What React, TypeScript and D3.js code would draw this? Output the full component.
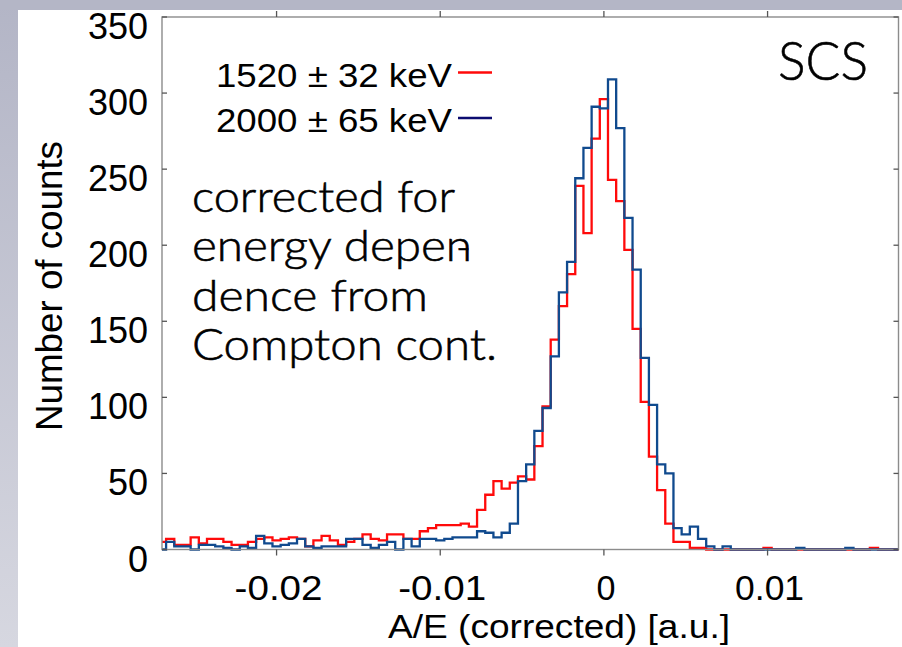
import React from "react";
import * as d3 from "d3";

// ---- data (bin centers start at -0.027, step 0.0005) ----
const binCenterStart = -0.027;
const binWidth = 0.0005;

const redCounts = [
  5, 7, 3, 3, 8, 4, 7, 7, 5, 3,
  3, 5, 7, 8, 6, 7, 8, 7, 2, 6,
  9, 6, 3, 5, 7, 10, 7, 6, 10, 10,
  7, 7, 12, 14, 16, 16, 16, 17, 15, 26,
  36, 45, 40, 44, 48, 46, 68, 94, 138, 160,
  181, 239, 208, 270, 296, 243, 229, 197, 145, 97,
  61, 39, 17, 5, 5, 1, 1, 0, 0, 0,
  0, 0, 0, 0, 1, 0, 0, 0, 0, 0,
  0, 0, 0, 0, 0, 0, 0, 1, 0, 0,
  0,
];

const blueCounts = [
  0, 5, 2, 2, 0, 3, 3, 2, 1, 0,
  2, 1, 9, 4, 2, 3, 4, 7, 2, 1,
  2, 2, 2, 7, 7, 3, 1, 3, 5, 0,
  7, 2, 7, 7, 6, 7, 8, 8, 8, 12,
  11, 8, 11, 17, 45, 56, 78, 93, 127, 169,
  189, 244, 264, 291, 290, 309, 277, 218, 184, 126,
  95, 56, 50, 14, 10, 15, 7, 2, 0, 2,
  0, 0, 0, 0, 0, 0, 0, 0, 1, 0,
  0, 0, 0, 0, 1, 0, 0, 0, 0, 0,
  0,
];

const xTicks = [-0.02, -0.01, 0, 0.01];
const xTickLabels = ["-0.02", "-0.01", "0", "0.01"];
const yTicks = [0, 50, 100, 150, 200, 250, 300, 350];
const legendLabels = ["1520 \u00b1 32 keV", "2000 \u00b1 65 keV"];
const noteLines = ["corrected for", "energy depen", "dence from", "Compton cont."];
const noteWidths = [263, 280, 236, 305];
const xTitle = "A/E (corrected) [a.u.]";
const yTitle = "Number of counts";
const tag = "SCS";

const RED = "#ff0a0a";
const BLUE = "#104a8e";
const NAVY = "#0c0c70";
const FRAME = "#8c8c8c";
const SANS = "'Liberation Sans', Arial, sans-serif";
const GOTHIC = "Lato, 'Open Sans', sans-serif";

export default function App() {
  const W = 902;
  const H = 647;
  const left = 162, right = 898.5, top = 17, bottom = 549.5;
  const x = d3.scaleLinear().domain([-0.027, 0.018]).range([left, right]);
  const y = d3.scaleLinear().domain([0, 350]).range([bottom, top]);

  const stepPath = (counts: number[]) => {
    const pts: [number, number][] = counts.map((c, i) => [
      x(binCenterStart + i * binWidth - binWidth / 2),
      y(c),
    ]);
    pts.push([
      x(binCenterStart + counts.length * binWidth - binWidth / 2),
      y(counts[counts.length - 1]),
    ]);
    return d3.line().curve(d3.curveStepAfter)(pts) || "";
  };

  return (
    <svg
      width={W}
      height={H}
      viewBox={`0 0 ${W} ${H}`}
      style={{ position: "fixed", left: 0, top: 0, display: "block" }}
    >
      <defs>
        <linearGradient id="bgGrad" x1="0" y1="0" x2="0" y2="1">
          <stop offset="0" stopColor="#b3b5c6" />
          <stop offset="1" stopColor="#d6d7e0" />
        </linearGradient>
        <clipPath id="plotClip">
          <rect x={left} y={top} width={right - left} height={bottom - top + 2} />
        </clipPath>
      </defs>
      <rect x={0} y={0} width={W} height={H} fill="url(#bgGrad)" />
      <rect x={0} y={0} width={W} height={10} fill="#b4b6c6" />
      <rect x={18} y={10} width={W - 18} height={H - 10} fill="#ffffff" />

      {/* histograms */}
      <g clipPath="url(#plotClip)" fill="none" strokeWidth={2.3} strokeLinejoin="miter">
        <path d={stepPath(redCounts)} stroke={RED} />
        <path d={stepPath(blueCounts)} stroke={BLUE} />
      </g>

      {/* frame */}
      <rect
        x={left}
        y={top}
        width={right - left}
        height={bottom - top}
        fill="none"
        stroke={FRAME}
        strokeWidth={1.4}
      />

      {/* y ticks */}
      {yTicks.map((t) => (
        <g key={"y" + t}>
          <line x1={left} x2={left + 5} y1={y(t)} y2={y(t)} stroke="#555" strokeWidth={1.3} />
          <line x1={right - 5} x2={right} y1={y(t)} y2={y(t)} stroke="#555" strokeWidth={1.3} />
          <text
            x={148}
            y={y(t) + 22}
            textAnchor="end"
            fontFamily={SANS}
            fontSize={36}
            fill="#000"
          >
            {t}
          </text>
        </g>
      ))}

      {/* x ticks */}
      {xTicks.map((t, i) => (
        <g key={"x" + t}>
          <line x1={x(t)} x2={x(t)} y1={bottom} y2={bottom + 6} stroke="#555" strokeWidth={1.3} />
          <line x1={x(t)} x2={x(t)} y1={top - 6} y2={top} stroke="#555" strokeWidth={1.3} />
          <text
            x={x(t) + 2}
            y={600}
            textAnchor="middle"
            fontFamily={SANS}
            fontSize={35}
            textLength={t < 0 ? 88 : t === 0 ? 19 : 69}
            lengthAdjust="spacingAndGlyphs"
            fill="#000"
          >
            {xTickLabels[i]}
          </text>
        </g>
      ))}

      {/* axis titles */}
      <text
        x={388}
        y={638}
        fontFamily={SANS}
        fontSize={33.5}
        textLength={342}
        lengthAdjust="spacingAndGlyphs"
        fill="#000"
      >
        {xTitle}
      </text>
      <text
        transform="translate(62,286) rotate(-90)"
        textAnchor="middle"
        fontFamily={SANS}
        fontSize={36}
        textLength={290}
        lengthAdjust="spacingAndGlyphs"
        fill="#000"
      >
        {yTitle}
      </text>

      {/* legend */}
      {legendLabels.map((lab, i) => (
        <g key={lab}>
          <text
            x={216}
            y={87 + i * 44.5}
            fontFamily={SANS}
            fontSize={33}
            textLength={236}
            lengthAdjust="spacingAndGlyphs"
            fill="#000"
          >
            {lab}
          </text>
          <line
            x1={458}
            x2={492}
            y1={72.5 + i * 45.5}
            y2={72.5 + i * 45.5}
            stroke={i === 0 ? RED : NAVY}
            strokeWidth={2.6}
          />
        </g>
      ))}

      {/* annotation */}
      {noteLines.map((ln, i) => (
        <text
          key={ln}
          x={192}
          y={212 + i * 49.3}
          fontFamily={GOTHIC}
          fontWeight={300}
          fontSize={44}
          textLength={noteWidths[i]}
          lengthAdjust="spacingAndGlyphs"
          fill="#000"
          stroke="#000"
          strokeWidth={0.6}
        >
          {ln}
        </text>
      ))}
      <text
        x={456}
        y={261}
        fontFamily={GOTHIC}
        fontWeight={300}
        fontSize={40}
        fill="#000"
        stroke="#000"
        strokeWidth={0.6}
      >
        -
      </text>

      <text
        x={778}
        y={80}
        fontFamily={GOTHIC}
        fontWeight={300}
        fontSize={54}
        textLength={90}
        lengthAdjust="spacingAndGlyphs"
        fill="#000"
        stroke="#000"
        strokeWidth={0.6}
      >
        {tag}
      </text>
    </svg>
  );
}
